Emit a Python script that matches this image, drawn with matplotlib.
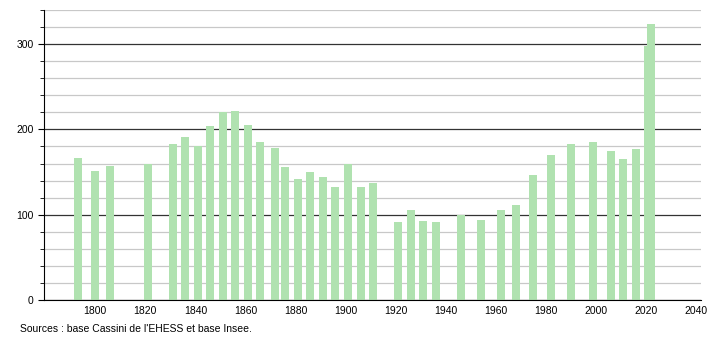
import matplotlib
matplotlib.use("Agg")
import matplotlib.pyplot as plt
from matplotlib.ticker import MultipleLocator

plt.rcParams['font.family'] = ['Liberation Sans', 'DejaVu Sans']

# census years and population
years = [1793, 1800, 1806, 1821, 1831, 1836, 1841, 1846, 1851, 1856,
         1861, 1866, 1872, 1876, 1881, 1886, 1891, 1896, 1901, 1906,
         1911, 1921, 1926, 1931, 1936, 1946, 1954, 1962, 1968, 1975,
         1982, 1990, 1999, 2006, 2011, 2016, 2021, 2022]
population = [167, 151, 157, 160, 183, 191, 180, 204, 220, 222,
              205, 185, 178, 156, 142, 150, 144, 133, 160, 133,
              137, 92, 105, 93, 92, 100, 94, 105, 111, 147,
              170, 183, 185, 175, 165, 177, 298, 323]
xticks = list(range(1800, 2041, 20))
yticks = [0, 100, 200, 300]
source = "Sources : base Cassini de l'EHESS et base Insee."

fig = plt.figure(figsize=(7.1, 3.4), dpi=100)
ax = fig.add_axes([0.062, 0.1176, 0.925, 0.853])

ax.bar(years, population, width=3.2, color='#b0e2b0', zorder=3)

ax.set_xlim(1779.5, 2042)
ax.set_ylim(0, 340)
ax.set_xticks(xticks)
ax.set_yticks(yticks)
ax.yaxis.set_minor_locator(MultipleLocator(20))

# grid: light every 20, dark every 100
ax.grid(which='minor', axis='y', color='#c8c8c8', linewidth=0.9, zorder=0)
ax.grid(which='major', axis='y', color='#333333', linewidth=0.9, zorder=1)

for side in ['top', 'right']:
    ax.spines[side].set_visible(False)
ax.spines['left'].set_color('black')
ax.spines['bottom'].set_color('black')
ax.spines['left'].set_zorder(4)
ax.spines['bottom'].set_zorder(4)

ax.tick_params(axis='x', length=0, labelsize=7.5, pad=4)
ax.tick_params(axis='y', which='major', length=4, labelsize=7.5)
ax.tick_params(axis='y', which='minor', length=3)

fig.text(0.028, 0.018, source, fontsize=7.5, ha='left', va='bottom')

plt.savefig("out.png", dpi=100)
